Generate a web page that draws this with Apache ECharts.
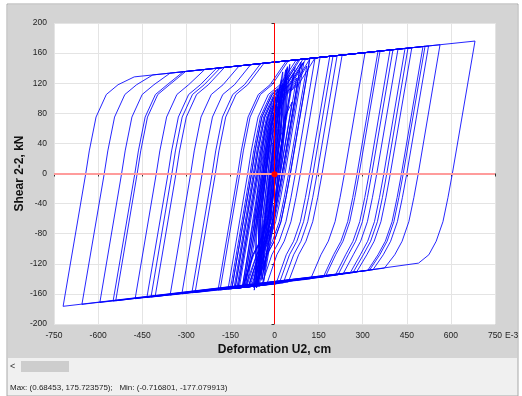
<!DOCTYPE html>
<html>
<head>
<meta charset="utf-8">
<script src="https://cdn.jsdelivr.net/npm/echarts@6/dist/echarts.min.js"></script>
<style>
html,body{margin:0;padding:0;background:#fff;}
#c{width:522px;height:396px;}
</style>
</head>
<body>
<div id="c"></div>
<script>
// Tick labels (deformation in E-3 cm, shear in kN)
var xTicks = [-750, -600, -450, -300, -150, 0, 150, 300, 450, 600, 750];
var yTicks = [-200, -160, -120, -80, -40, 0, 40, 80, 120, 160, 200];

// Response path (deformation E-3 cm, shear kN), in time order
var bandCycles = [
[-40,-60],[-22,0],[-4,60],[29,120],[20,60],[2,0],[-16,-60],[-52,-140],
[-51,-60],[-33,0],[-15,60],[15,110],[15,60],[-3,0],[-21,-60],[-59,-148],
[-33,-60],[-15,0],[3,60],[39,130],[23,60],[5,0],[-13,-60],[-48,-135],
[-58,-60],[-40,0],[-22,60],[5,100],[14,60],[-4,0],[-22,-60],[-61,-150],
[-32,-60],[-14,0],[4,60],[43,140],[32,60],[14,0],[-4,-60],[-37,-130],
[-41,-60],[-23,0],[-5,60],[27,115],[13,60],[-5,0],[-23,-60],[-61,-145],
[-62,-60],[-44,0],[-26,60],[0,95],[6,60],[-12,0],[-30,-60],[-70,-152],
[-46,-60],[-28,0],[-10,60],[28,135],[30,60],[12,0],[-6,-60],[-43,-142],
[-49,-60],[-31,0],[-13,60],[16,105],[9,60],[-9,0],[-27,-60],[-62,-138],
[-25,-60],[-7,0],[11,60],[52,145],[35,60],[17,0],[-1,-60],[-33,-128],
[-47,-60],[-29,0],[-11,60],[24,125],[23,60],[5,0],[-13,-60],[-52,-150],
[-53,-60],[-35,0],[-17,60],[7,90],[3,60],[-15,0],[-33,-60],[-71,-146],
[-36,-60],[-18,0],[0,60],[38,138],[30,60],[12,0],[-6,-60],[-42,-140],
[-47,-60],[-29,0],[-11,60],[21,118],[15,60],[-3,0],[-21,-60],[-61,-152],
[-68,-60],[-50,0],[-32,60],[-5,100],[8,60],[-10,0],[-28,-60],[-69,-155],
[-32,-60],[-14,0],[4,60],[39,128],[20,60],[2,0],[-16,-60],[-50,-134],
[-56,-60],[-38,0],[-20,60],[11,112],[18,60],[0,0],[-18,-60],[-56,-148],
[-32,-60],[-14,0],[4,60],[44,142],[36,60],[18,0],[0,-60],[-37,-144]
];
var smallCycles = [
[0,0],[12,30],[35,75],[60,95],
[19,0],[4,-32],[-13,-64],[-36,-90],[-61,-108],[-100,-151],
[-34,0],[-22,30],[1,75],[36,105],[76,118],[80,121],
[27,0],[12,-32],[-5,-64],[-28,-90],[-53,-108],[-88,-150.6],[-124,-152],
[-58,0],[-46,30],[-23,75],[12,105],[52,118],[100,148],
[36,0],[21,-32],[4,-64],[-19,-90],[-44,-108],[-79,-150.2],[-134,-152.5],
[-68,0],[-56,30],[-33,75],[2,105],[42,118],[90,148],
[26,0],[11,-32],[-6,-64],[-29,-90],[-54,-108],[-89,-150.6],[-110,-151.5],
[-44,0],[-32,30],[-9,75],[26,105],[66,118],[120,152],
[54,0],[39,-32],[22,-64],[-1,-90],[-26,-108],[-61,-149.5],[-145,-152.9],
[-78,0],[-66,30],[-43,75],[-8,105],[32,118],[70,141],
[9,0],[-6,-32],[-23,-64],[-46,-90],[-71,-108],[-106,-151.3]
];
var denseCycles = [
[-40,0],[-28,30],[-5,75],[30,105],[55,113],
[6,0],[-9,-32],[-26,-64],[-49,-90],[-74,-108],[-109,-151.5],[-115,-151.7],
[-49,0],[-37,30],[-14,75],[21,105],[61,118],[75,127],
[20,0],[5,-32],[-12,-64],[-35,-90],[-60,-108],[-95,-150.9],[-128,-152.2],
[-62,0],[-50,30],[-27,75],[8,105],[48,118],[95,147],
[31,0],[16,-32],[-1,-64],[-24,-90],[-49,-108],[-84,-150.4],[-105,-151.3],
[-39,0],[-27,30],[-4,75],[31,105],[71,118],[110,143],
[48,0],[33,-32],[16,-64],[-7,-90],[-32,-108],[-67,-149.7],[-138,-152.7],
[-72,0],[-60,30],[-37,75],[-2,105],[38,118],[65,134],
[7,0],[-8,-32],[-25,-64],[-48,-90],[-73,-108],[-108,-151.4],[-120,-151.9],
[-54,0],[-42,30],[-19,75],[16,105],[56,118],[85,136],
[26,0],[11,-32],[-6,-64],[-29,-90],[-54,-108],[-89,-150.6],[-150,-153.2],
[-83,0],[-71,30],[-48,75],[-13,105],[27,118],[82,151.4],[120,152.9],
[54,0],[39,-32],[22,-64],[-1,-90],[-26,-108],[-61,-149.5],[-95,-150.9]
];
var midCycles = [
[-29,0],[-17,30],[6,75],[41,105],[81,118],[138,153.7],
[71,0],[56,-32],[39,-64],[16,-90],[-9,-108],[-44,-148.8],[-158,-153.5],
[-91,0],[-79,30],[-56,75],[-21,105],[19,118],[74,151],[155,154.4],
[88,0],[73,-32],[56,-64],[33,-90],[8,-108],[-27,-148.1],[-192,-154.9],
[-125,0],[-113,30],[-90,75],[-55,105],[-15,118],[40,149.6],[199,156.2],
[131,0],[116,-32],[99,-64],[76,-90],[51,-108],[16,-146.1],[-185,-154.6],
[-118,0],[-106,30],[-83,75],[-48,105],[-8,118],[47,149.9],[213,156.7],
[145,0],[130,-32],[113,-64],[90,-90],[65,-108],[30,-145.3],[-134,-152.5],
[-68,0],[-56,30],[-33,75],[2,105],[42,118],[97,152],[188,155.7],
[120,0],[105,-32],[88,-64],[65,-90],[40,-108],[5,-146.7],[-270,-158.1],
[-201,0],[-189,30],[-166,75],[-131,105],[-91,118],[-36,146.5],[230,157.4],
[162,0],[147,-32],[130,-64],[107,-90],[82,-108],[47,-144.3],[-124,-152.1],
[-58,0],[-46,30],[-23,75],[12,105],[52,118],[107,152.4],[308,160.6],
[238,0],[223,-32],[206,-64],[183,-90],[158,-108],[123,-140],[-281,-158.5]
];
var largeCycles = [
[-212,0],[-200,30],[-177,75],[-142,105],[-102,118],[-47,146.1],[352,162.4],
[281,0],[266,-32],[249,-64],[226,-90],[201,-108],[166,-137.5],[-315,-159.9],
[-246,0],[-234,30],[-211,75],[-176,105],[-136,118],[-81,144.7],[359,162.7],
[288,0],[273,-32],[256,-64],[233,-90],[208,-108],[173,-137.1],[-355,-161.6],
[-285,0],[-273,30],[-250,75],[-215,105],[-175,118],[-120,143.1],[393,164.1],
[322,0],[307,-32],[290,-64],[267,-90],[242,-108],[207,-135.2],[-406,-163.6],
[-335,0],[-323,30],[-300,75],[-265,105],[-225,118],[-170,141],[403,164.5],
[331,0],[316,-32],[299,-64],[276,-90],[251,-108],[216,-134.7],[-420,-164.2],
[-349,0],[-337,30],[-314,75],[-279,105],[-239,118],[-184,140.5],[420,165.2],
[348,0],[333,-32],[316,-64],[293,-90],[268,-108],[233,-133.7],[-434,-164.8],
[-362,0],[-350,30],[-327,75],[-292,105],[-252,118],[-197,139.9],[444,166.2],
[372,0],[357,-32],[340,-64],[317,-90],[292,-108],[257,-132.4],[-474,-166.4],
[-402,0],[-390,30],[-367,75],[-332,105],[-292,118],[-237,138.3],[454,166.6],
[382,0],[367,-32],[350,-64],[327,-90],[302,-108],[267,-131.8],[-540,-169.1],
[-467,0],[-455,30],[-432,75],[-397,105],[-357,118],[-302,135.6],[467,167.1],
[394,0],[379,-32],[362,-64],[339,-90],[314,-108],[279,-131.1],[-549,-169.5],
[-475,0],[-463,30],[-440,75],[-405,105],[-365,118],[-310,135.3],[505,168.7],
[432,0],[417,-32],[400,-64],[377,-90],[352,-108],[317,-128.9],[-594,-171.4],
[-520,0],[-508,30],[-485,75],[-450,105],[-410,118],[-355,133.4],[512,169],
[438,0],[423,-32],[406,-64],[383,-90],[358,-108],[323,-128.6],[-655,-173.9],
[-579,0],[-567,30],[-544,75],[-509,105],[-469,118],[-414,131],[524,169.5],
[450,0],[435,-32],[418,-64],[395,-90],[370,-108],[335,-127.9],[-719,-176.5],
[-642,0],[-630,30],[-607,75],[-572,105],[-532,118],[-477,128.4],[563,171.1],
[489,0],[474,-32],[457,-64],[434,-90],[409,-108],[374,-125.7],[-145,-152.9],
[-78,0],[-66,30],[-43,75],[-8,105],[32,118],[87,151.6],[682,176],
[605,0],[590,-32],[573,-64],[550,-90],[525,-108],[490,-119.1],[-100,-151.1],
[-34,0]
];
var currentPoint = [[0, -1]];
var statusText = 'Max: (0.68453, 175.723575);   Min: (-0.716801, -177.079913)';

var path = bandCycles.concat(smallCycles, denseCycles, midCycles, largeCycles);

var chart = echarts.init(document.getElementById('c'), null, {renderer: 'canvas'});
var FONT = '"Liberation Sans", Arial, sans-serif';
chart.setOption({
  animation: false,
  backgroundColor: '#ffffff',
  textStyle: {fontFamily: FONT},
  graphic: [
    {type: 'rect', z: -10, silent: true, shape: {x: 7, y: 4, width: 511, height: 392}, style: {fill: '#f0f0f0', stroke: '#a8a8a8', lineWidth: 1}},
    {type: 'rect', z: -9, silent: true, shape: {x: 8, y: 5, width: 509, height: 353}, style: {fill: '#d4d4d4'}},
    {type: 'rect', z: -9, silent: true, shape: {x: 21, y: 361, width: 48, height: 11}, style: {fill: '#cdcdcd'}},
    {type: 'text', silent: true, left: 10, top: 362, style: {text: '<', fill: '#333', font: '9px ' + FONT}},
    {type: 'text', silent: true, left: 10, top: 384, style: {text: statusText, fill: '#222', font: '8px ' + FONT}},
    {type: 'text', silent: true, left: 505, top: 331, style: {text: 'E-3', fill: '#222', font: '8.5px ' + FONT}}
  ],
  grid: {left: 54, right: 27, top: 23, bottom: 72, show: true, backgroundColor: '#ffffff', borderWidth: 0},
  xAxis: {
    type: 'value', min: -750, max: 750, interval: 150, offset: 2,
    name: 'Deformation U2, cm', nameLocation: 'middle', nameGap: 18, nameMoveOverlap: false,
    nameTextStyle: {fontSize: 12, fontWeight: 'bold', color: '#111', fontFamily: FONT},
    axisLine: {show: false},
    axisTick: {show: true, length: 3, lineStyle: {color: '#333'}},
    axisLabel: {fontSize: 8.5, color: '#222', margin: 5, fontFamily: FONT},
    splitLine: {show: true, lineStyle: {color: '#e4e4e4', width: 1}}
  },
  yAxis: {
    type: 'value', min: -200, max: 200, interval: 40, offset: 2,
    name: 'Shear 2-2, kN', nameLocation: 'middle', nameGap: 26, nameRotate: 90, nameMoveOverlap: false,
    nameTextStyle: {fontSize: 12, fontWeight: 'bold', color: '#111', fontFamily: FONT},
    axisLine: {show: false},
    axisTick: {show: true, length: 3, lineStyle: {color: '#333'}},
    axisLabel: {fontSize: 8.5, color: '#222', margin: 5, fontFamily: FONT},
    splitLine: {show: true, lineStyle: {color: '#e4e4e4', width: 1}}
  },
  series: [
    {
      type: 'line', z: 1, data: [[0, 0]], showSymbol: false, symbolSize: 0,
      lineStyle: {opacity: 0}, silent: true,
      markLine: {
        silent: true, symbol: ['none', 'none'], label: {show: false}, animation: false,
        data: [
          {xAxis: 0, lineStyle: {color: '#ff0000', width: 1, type: 'solid'}},
          {yAxis: 0, lineStyle: {color: '#ff9c9c', width: 2, type: 'solid'}}
        ]
      }
    },
    {
      type: 'line', z: 2, data: path, showSymbol: false, symbol: 'none',
      clip: true, smooth: false,
      lineStyle: {color: '#0000ff', width: 1, opacity: 0.85}
    },
    {
      type: 'scatter', z: 5, data: currentPoint, symbol: 'circle', symbolSize: 6,
      itemStyle: {color: '#ff0000', opacity: 1}
    }
  ]
});
</script>
</body>
</html>
